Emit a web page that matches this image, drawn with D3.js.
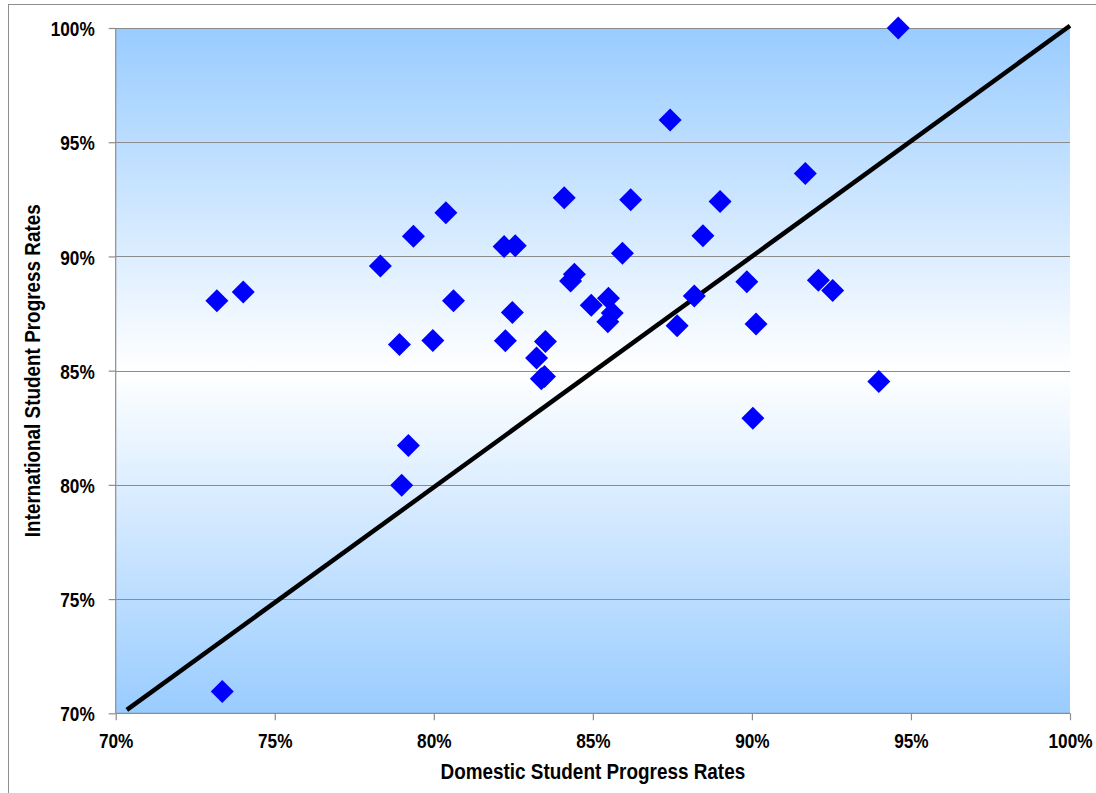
<!DOCTYPE html>
<html>
<head>
<meta charset="utf-8">
<script src="https://cdn.jsdelivr.net/npm/d3@7"></script>
<style>
  html, body { margin: 0; padding: 0; background: #ffffff; }
  svg { display: block; }
  .lbl { font-family: "Liberation Sans Narrow", "Arial Narrow", "Liberation Sans", Arial, sans-serif; font-weight: bold; fill: #000; }
</style>
</head>
<body>
<svg id="chart" width="1096" height="793"></svg>
<script>
// Domestic (x) and international (y) student progress rates, in %
const domestic = [94.60, 87.43, 91.68, 84.10, 86.19, 89.00, 80.38, 79.36, 88.46, 82.21,
                  82.56, 85.93, 78.32, 74.01, 73.18, 84.42, 84.30, 80.62, 84.95, 85.49,
                  85.61, 85.47, 82.47, 88.19, 87.65, 89.84, 92.09, 92.54, 90.13, 78.92,
                  79.97, 82.25, 83.51, 83.23, 83.38, 83.48, 93.99, 90.03, 79.20, 78.99,
                  73.35];
const international = [100.0, 95.97, 93.63, 92.57, 92.48, 92.41, 91.91, 90.88, 90.91, 90.43,
                       90.47, 90.14, 89.58, 88.44, 88.06, 89.22, 88.92, 88.06, 87.86, 88.17,
                       87.52, 87.14, 87.55, 88.27, 86.97, 88.89, 88.96, 88.51, 87.04, 86.14,
                       86.32, 86.31, 86.28, 85.55, 84.64, 84.74, 84.52, 82.92, 81.72, 79.98,
                       70.95];
// Reference line (parity line) endpoints
const lineX = [70.35, 100.0];
const lineY = [70.15, 100.1];
const xTicks = [70, 75, 80, 85, 90, 95, 100];
const yTicks = [70, 75, 80, 85, 90, 95, 100];
const xTitle = "Domestic Student Progress Rates";
const yTitle = "International Student Progress Rates";

const svg = d3.select("#chart");
const L = 115.7, R = 1070, T = 28, B = 713.3;
const x = d3.scaleLinear().domain([70, 100]).range([L, R]);
const y = d3.scaleLinear().domain([70, 100]).range([B, T]);

// narrow-font emulation: horizontal squeeze
const SQ = 0.82;

// outer chart border
svg.append("rect").attr("x", 8.5).attr("y", 4.5).attr("width", 1200).attr("height", 1000)
  .attr("fill", "#fff").attr("stroke", "#8e8e8e").attr("stroke-width", 1);

// gradient background
const defs = svg.append("defs");
const grad = defs.append("linearGradient").attr("id", "bg").attr("x1", 0).attr("y1", 0).attr("x2", 0).attr("y2", 1);
grad.append("stop").attr("offset", "0%").attr("stop-color", "#99ccff");
grad.append("stop").attr("offset", "50%").attr("stop-color", "#ffffff");
grad.append("stop").attr("offset", "100%").attr("stop-color", "#99ccff");
svg.append("rect").attr("x", L).attr("y", T).attr("width", R - L).attr("height", B - T).attr("fill", "url(#bg)");

// gridlines
svg.append("g").selectAll("line").data(yTicks.filter(d => d > 70)).join("line")
  .attr("x1", L).attr("x2", R)
  .attr("y1", d => Math.round(y(d)) + 0.5).attr("y2", d => Math.round(y(d)) + 0.5)
  .attr("stroke", "#8c8c8c").attr("stroke-width", 1.2);

// axes
const yAxis = d3.axisLeft(y).tickValues(yTicks).tickSize(7).tickFormat(d => d + "%");
const xAxis = d3.axisBottom(x).tickValues(xTicks).tickSize(7).tickFormat(d => d + "%");

const gy = svg.append("g").attr("transform", `translate(${L},0)`).call(yAxis);
const gx = svg.append("g").attr("transform", `translate(0,${B})`).call(xAxis);
[gx, gy].forEach(g => {
  g.select(".domain").attr("stroke", "#8c8c8c").attr("stroke-width", 1.2);
  g.selectAll(".tick line").attr("stroke", "#8c8c8c").attr("stroke-width", 1.2);
  g.selectAll(".tick text").attr("class", "lbl").attr("font-size", 21).attr("fill", "#000");
});
gy.select(".domain").attr("d", `M0,${B}V${T}`);
gx.select(".domain").attr("d", `M${L},0H${R}`);
gy.selectAll(".tick text").attr("x", null).attr("dy", "0.36em")
  .attr("transform", `translate(-21,0) scale(${SQ},1)`);
gx.selectAll(".tick text").attr("y", null).attr("dy", "0.71em")
  .attr("transform", `translate(0,20) scale(${SQ},1)`);

// parity line
svg.append("line")
  .attr("x1", x(lineX[0])).attr("y1", y(lineY[0]))
  .attr("x2", x(lineX[1])).attr("y2", y(lineY[1]))
  .attr("stroke", "#000").attr("stroke-width", 4.5);

// points (diamonds)
const pts = domestic.map((d, i) => ({ dx: d, iy: international[i] }));
const h = 11.5;
svg.append("g").selectAll("path").data(pts).join("path")
  .attr("d", p => {
    const cx = x(p.dx), cy = y(p.iy);
    return `M${cx},${cy - h}L${cx + h},${cy}L${cx},${cy + h}L${cx - h},${cy}Z`;
  })
  .attr("fill", "#0000ff");

// axis titles
const TSQ = 0.86;
svg.append("text").attr("class", "lbl").attr("font-size", 22)
  .attr("transform", `translate(${(L + R) / 2},779) scale(${TSQ},1)`)
  .attr("text-anchor", "middle").text(xTitle);
svg.append("text").attr("class", "lbl").attr("font-size", 22)
  .attr("transform", `translate(40,${(T + B) / 2}) rotate(-90) scale(${TSQ},1)`)
  .attr("text-anchor", "middle").text(yTitle);
</script>
</body>
</html>
